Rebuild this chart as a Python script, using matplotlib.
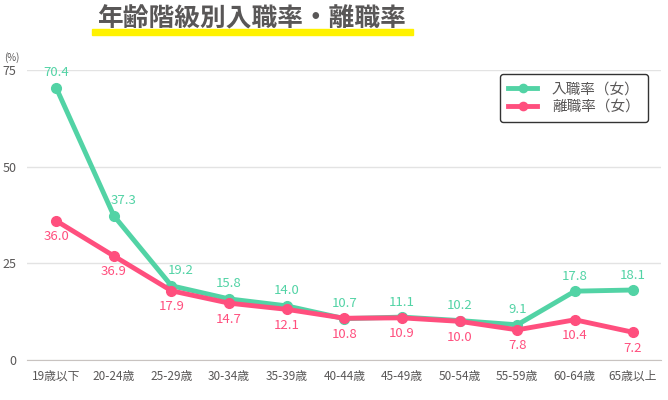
import matplotlib.pyplot as plt
from matplotlib.patches import Rectangle

plt.rcParams['font.family'] = ['Noto Sans CJK JP', 'DejaVu Sans']

categories = ["19歳以下", "20-24歳", "25-29歳", "30-34歳", "35-39歳", "40-44歳",
              "45-49歳", "50-54歳", "55-59歳", "60-64歳", "65歳以上"]
hire = [70.4, 37.3, 19.2, 15.8, 14.0, 10.7, 11.1, 10.2, 9.1, 17.8, 18.1]
leave = [36.0, 26.9, 17.9, 14.7, 13.1, 10.8, 10.9, 10.0, 7.8, 10.4, 7.2]
# labels as printed on the original chart
hire_labels = ["70.4", "37.3", "19.2", "15.8", "14.0", "10.7", "11.1", "10.2", "9.1", "17.8", "18.1"]
leave_labels = ["36.0", "36.9", "17.9", "14.7", "12.1", "10.8", "10.9", "10.0", "7.8", "10.4", "7.2"]
yticks = [0, 25, 50, 75]

green = "#52D3A5"
pink = "#FF4F7E"
textc = "#595757"

fig = plt.figure(figsize=(6.68, 4.0), dpi=100)
ax = fig.add_axes([0.041, 0.1, 0.949, 0.725])

x = range(len(categories))
ax.plot(x, hire, color=green, linewidth=3.5, marker="o", markersize=7,
        label="入職率（女）", zorder=3)
ax.plot(x, leave, color=pink, linewidth=3.5, marker="o", markersize=7,
        label="離職率（女）", zorder=4)

# green labels pushed right where they would sit on the steep line
nudge = {1: 10, 2: 9}
for i in x:
    ax.annotate(hire_labels[i], (i, hire[i]), xytext=(nudge.get(i, 0), 15),
                textcoords="offset pixels", ha="center", va="center",
                color=green, fontsize=9.5)
    ax.annotate(leave_labels[i], (i, leave[i]), xytext=(0, -16), textcoords="offset pixels",
                ha="center", va="center", color=pink, fontsize=9.5)

ax.set_xlim(-0.5, len(categories) - 0.5)
ax.set_ylim(0, 75)
ax.set_yticks(yticks)
ax.set_xticks(list(x))
ax.set_xticklabels(categories)
ax.tick_params(axis="both", length=0, colors=textc)
ax.tick_params(axis="y", pad=8, labelsize=9)
ax.tick_params(axis="x", pad=7, labelsize=8.5)
ax.grid(axis="y", color="#e3e3e3", linewidth=1)
ax.set_axisbelow(True)
for s in ["top", "left", "right"]:
    ax.spines[s].set_visible(False)
ax.spines["bottom"].set_color("#c8c3c0")

leg = ax.legend(loc="upper right", bbox_to_anchor=(0.99, 1.01), fontsize=10.5,
                frameon=True, fancybox=True, edgecolor="black", handlelength=2.0,
                borderpad=0.55, labelspacing=0.25, handletextpad=1.0, markerscale=0.85)
leg.get_frame().set_linewidth(1)
for t in leg.get_texts():
    t.set_color(textc)

fig.text(0.006, 0.857, "(%)", fontsize=7, color=textc, ha="left", va="center")

fig.patches.append(Rectangle((0.138, 0.912), 0.48, 0.016, transform=fig.transFigure,
                             color="#FFF200", zorder=0))
fig.text(0.376, 0.952, "年齢階級別入職率・離職率", fontsize=18.5, fontweight="bold",
         color=textc, ha="center", va="center", zorder=1)

fig.savefig("out.png", dpi=100)
